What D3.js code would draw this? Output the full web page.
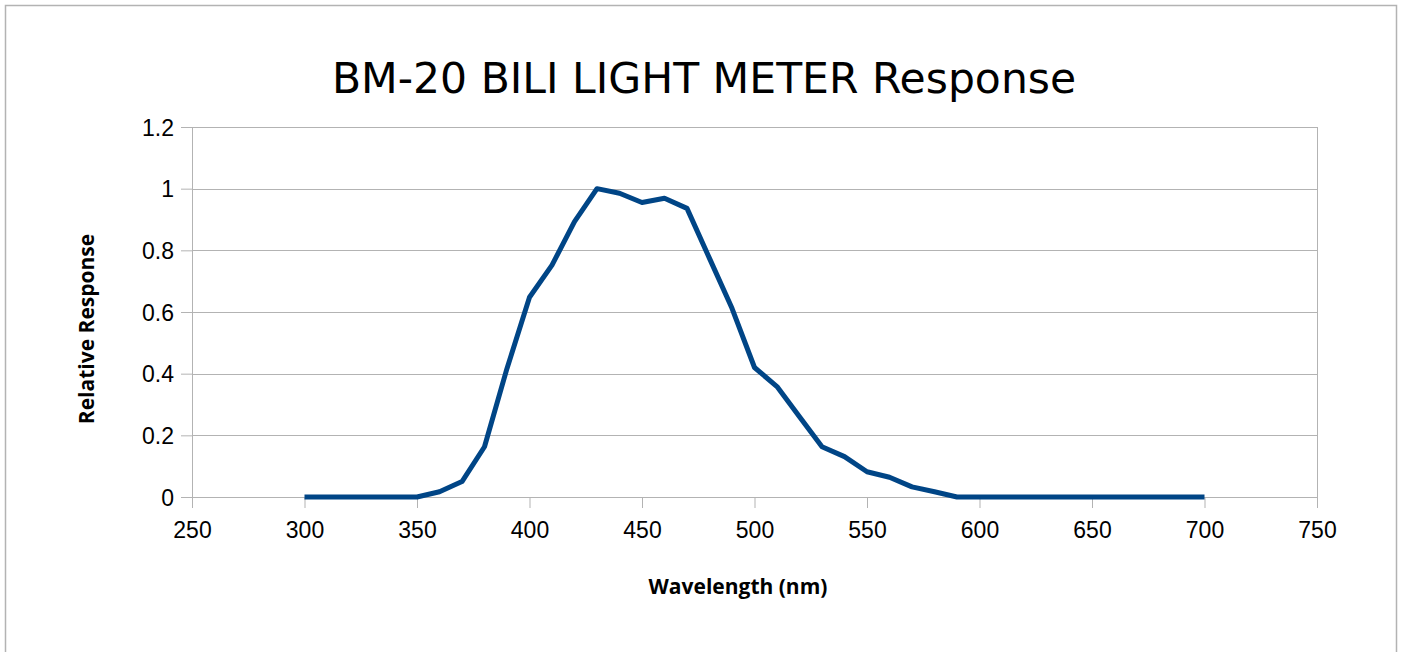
<!DOCTYPE html>
<html>
<head>
<meta charset="utf-8">
<script src="https://cdn.jsdelivr.net/npm/d3@7"></script>
<style>
  body { margin: 0; background: #fff; }
  .tick text { font-family: "Liberation Sans", Arial, sans-serif; font-size: 23px; fill: #000; }
  .axis-label { font-family: "Open Sans", "Noto Sans", sans-serif; font-weight: bold; font-size: 21px; }
</style>
</head>
<body>
<svg id="chart-area"></svg>
<script>
// Data
const wavelengths = [300, 310, 320, 330, 340, 350, 360, 370, 380, 390, 400, 410, 420, 430, 440, 450,
  460, 470, 480, 490, 500, 510, 520, 530, 540, 550, 560, 570, 580, 590, 600, 610, 620, 630, 640,
  650, 660, 670, 680, 690, 700];
const response = [0, 0, 0, 0, 0, 0, 0.017, 0.05, 0.163, 0.417, 0.648, 0.752, 0.893, 1.0, 0.985, 0.955,
  0.969, 0.936, 0.774, 0.612, 0.42, 0.358, 0.26, 0.163, 0.131, 0.082, 0.064, 0.033, 0.017, 0, 0, 0,
  0, 0, 0, 0, 0, 0, 0, 0, 0];
const xTicks = [250, 300, 350, 400, 450, 500, 550, 600, 650, 700, 750];
const yTicks = [0, 0.2, 0.4, 0.6, 0.8, 1, 1.2];

const W = 1402, H = 652;
const margin = { top: 127, right: 85, bottom: 155, left: 192 };
const width = W - margin.left - margin.right;
const height = H - margin.top - margin.bottom;

const root = d3.select("#chart-area")
    .attr("width", W)
    .attr("height", H);

// outer frame
root.append("rect")
    .attr("x", 5.5).attr("y", 5.5)
    .attr("width", W - 11).attr("height", H)
    .attr("fill", "none")
    .attr("stroke", "#b3b3b3")
    .attr("stroke-width", 1.5);

root.append("text")
    .attr("x", 704)
    .attr("y", 93)
    .attr("text-anchor", "middle")
    .style("font-family", "DejaVu Sans, sans-serif")
    .style("font-size", "42.5px")
    .text("BM-20 BILI LIGHT METER Response");

const svg = root.append("g")
    .attr("transform", `translate(${margin.left},${margin.top})`);

const x = d3.scaleLinear().domain([250, 750]).range([0, width]);
const y = d3.scaleLinear().domain([0, 1.2]).range([height, 0]);

// gridlines
svg.append("g")
  .selectAll("line")
  .data(yTicks)
  .join("line")
    .attr("x1", 0).attr("x2", width)
    .attr("y1", d => Math.round(y(d)) + 0.5)
    .attr("y2", d => Math.round(y(d)) + 0.5)
    .attr("stroke", "#b3b3b3");

// right border of plot
svg.append("line")
    .attr("x1", width + 0.5).attr("x2", width + 0.5)
    .attr("y1", 0).attr("y2", height)
    .attr("stroke", "#b3b3b3");

// axes
const xAxis = svg.append("g")
    .attr("transform", `translate(0,${height})`)
    .call(d3.axisBottom(x).tickValues(xTicks).tickSize(11).tickPadding(14).tickFormat(d3.format("d")));

const yAxis = svg.append("g")
    .call(d3.axisLeft(y).tickValues(yTicks).tickSize(11).tickPadding(7).tickFormat(d => String(d)));

[xAxis, yAxis].forEach(a => {
  a.select(".domain").attr("stroke", "#b3b3b3");
  a.selectAll(".tick line").attr("stroke", "#b3b3b3");
});
yAxis.selectAll(".tick text").attr("dy", "0.36em");

// the curve
const line = d3.line()
    .x((d, i) => x(wavelengths[i]))
    .y(d => y(d));

svg.append("path")
    .datum(response)
    .attr("fill", "none")
    .attr("stroke", "#004586")
    .attr("stroke-width", 5)
    .attr("stroke-linejoin", "round")
    .attr("d", line);

// axis titles
root.append("text")
    .attr("class", "axis-label")
    .attr("x", 738)
    .attr("y", 594)
    .attr("text-anchor", "middle")
    .text("Wavelength (nm)");

root.append("text")
    .attr("class", "axis-label")
    .attr("transform", "translate(94,329) rotate(-90)")
    .attr("text-anchor", "middle")
    .text("Relative Response");
</script>
</body>
</html>
